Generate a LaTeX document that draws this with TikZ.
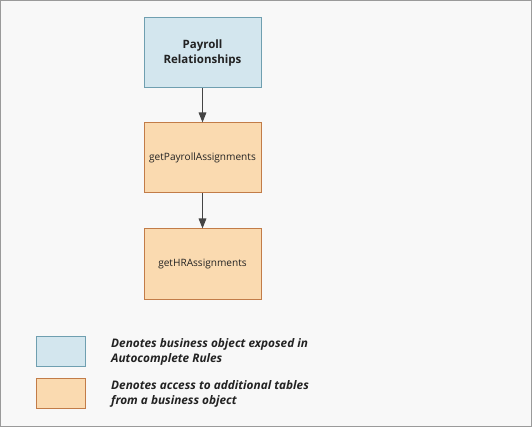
\documentclass[tikz,border=0pt]{standalone}
\usepackage{fontspec}
\setmainfont{Open Sans}
\usetikzlibrary{arrows.meta}
\definecolor{bgc}{HTML}{F8F8F8}
\definecolor{framec}{HTML}{9A9A9A}
\definecolor{bluef}{HTML}{D3E6EE}
\definecolor{blued}{HTML}{6F9FB0}
\definecolor{orf}{HTML}{FADAB0}
\definecolor{ord}{HTML}{C27C48}
\definecolor{arrc}{HTML}{444444}
\definecolor{txtc}{HTML}{222222}
\tikzset{
  bluebox/.style={draw=blued, fill=bluef, line width=1pt, minimum width=117pt, minimum height=70pt, inner sep=0pt, align=center, text=txtc, font=\fontsize{11.5}{15}\selectfont\bfseries},
  orbox/.style={draw=ord, fill=orf, line width=1pt, minimum width=117pt, minimum height=70pt, inner sep=0pt, align=center, text=txtc, font=\fontsize{10.1}{12}\selectfont},
  legbox/.style={inner sep=0pt, minimum width=49pt, minimum height=30pt, line width=1pt},
  legtext/.style={anchor=west, align=left, inner sep=0pt, text=txtc, font=\fontsize{11.8}{14.5}\selectfont\bfseries\itshape},
  conn/.style={draw=arrc, line width=1.5pt, -{Triangle[length=10pt,width=7.5pt]}}
}
\begin{document}
\begin{tikzpicture}[x=1pt,y=-1pt]
\useasboundingbox (0,0) rectangle (532,427);
\draw[fill=bgc, draw=framec, line width=1pt] (0.5,0.5) rectangle (531.5,426.5);
\node[bluebox] (pr) at (202.5,53) {Payroll\\Relationships};
\node[orbox] (gpa) at (202.5,158) {getPayrollAssignments};
\node[orbox] (ghr) at (202.5,264) {getHRAssignments};
\draw[conn] (pr) -- (gpa);
\draw[conn] (gpa) -- (ghr);
\node[legbox, draw=blued, fill=bluef] (lb) at (60.5,351) {};
\node[legbox, draw=ord, fill=orf] (lo) at (60.5,393) {};
\node[legtext] (lbt) at (111,352) {Denotes business object exposed in\\Autocomplete Rules};
\node[legtext] (lot) at (111,394) {Denotes access to additional tables\\from a business object};
\end{tikzpicture}
\end{document}
